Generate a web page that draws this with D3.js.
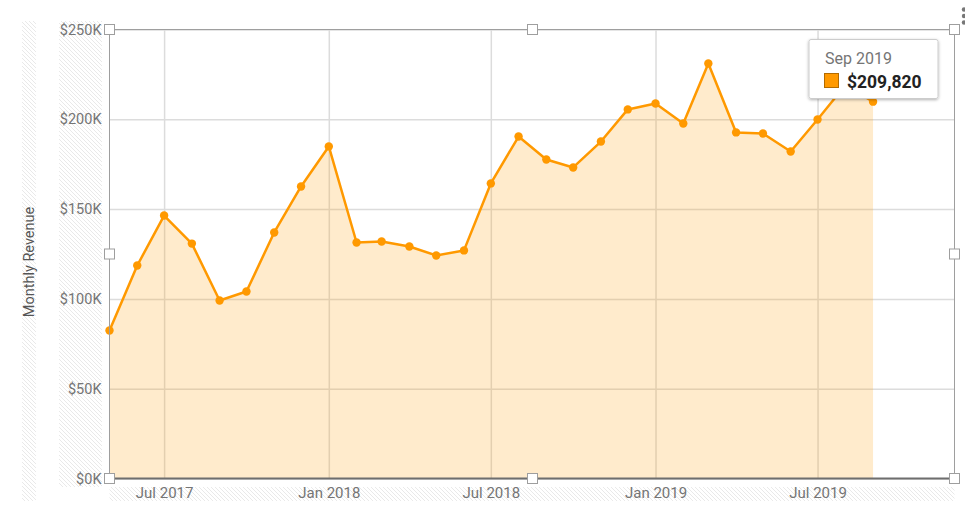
<!DOCTYPE html>
<html>
<head>
<meta charset="utf-8">
<script src="https://cdn.jsdelivr.net/npm/d3@7"></script>
<style>
  body { margin: 0; background: #fff; }
  svg { display: block; font-family: Roboto, Arial, sans-serif; }
</style>
</head>
<body>
<svg id="chart"></svg>
<script>
// ---- data ----
const months = [
  "2017-05", "2017-06", "2017-07", "2017-08", "2017-09", "2017-10", "2017-11", "2017-12",
  "2018-01", "2018-02", "2018-03", "2018-04", "2018-05", "2018-06", "2018-07", "2018-08",
  "2018-09", "2018-10", "2018-11", "2018-12", "2019-01", "2019-02", "2019-03", "2019-04",
  "2019-05", "2019-06", "2019-07", "2019-08", "2019-09"
];
const revenue = [
  82400, 118600, 146400, 130800, 99100, 104100, 137000, 162600,
  184900, 131400, 132000, 129200, 124200, 127000, 164300, 190400,
  177600, 173200, 187600, 205500, 208800, 197700, 231100, 192700,
  192100, 182100, 199900, 219000, 209820
];
const yTicks = [0, 50000, 100000, 150000, 200000, 250000];
const xTickLabels = ["Jul 2017", "Jan 2018", "Jul 2018", "Jan 2019", "Jul 2019"];
const yTitle = "Monthly Revenue";

const W = 965, H = 513;
const pL = 109.5, pT = 29.5, pR = 954.5, pB = 478.5;

const parse = d3.timeParse("%Y-%m");
const fmtTick = d3.timeFormat("%b %Y");
const data = months.map((m, i) => ({ date: parse(m), value: revenue[i] }));

const svg = d3.select("#chart").attr("width", W).attr("height", H);

const x = d3.scaleTime()
  .domain([parse("2017-05"), new Date(2019, 11, 1)])
  .range([pL, pR]);
const y = d3.scaleLinear().domain([0, 250000]).range([pB, pT]);

const xTicks = xTickLabels.map(s => d3.timeParse("%b %Y")(s));

/* hatch pattern for the label strips */
const defs = svg.append("defs");
const pat = defs.append("pattern")
  .attr("id", "hatch")
  .attr("patternUnits", "userSpaceOnUse")
  .attr("width", 4).attr("height", 4);
pat.append("path")
  .attr("d", "M-1,-1L5,5M-1,3L1,5M3,-1L5,1")
  .attr("stroke", "#e9e9e9").attr("stroke-width", 1);

const shadow = defs.append("filter").attr("id", "shadow")
  .attr("x", "-20%").attr("y", "-20%").attr("width", "140%").attr("height", "150%");
shadow.append("feDropShadow")
  .attr("dx", 0).attr("dy", 1).attr("stdDeviation", 1.5)
  .attr("flood-color", "#000").attr("flood-opacity", 0.3);

svg.append("rect").attr("x", 22).attr("y", 21).attr("width", 14).attr("height", 480).attr("fill", "url(#hatch)");
svg.append("rect").attr("x", 59).attr("y", 21).attr("width", 43).attr("height", 466).attr("fill", "url(#hatch)");
svg.append("rect").attr("x", pL).attr("y", 487).attr("width", pR - pL).attr("height", 14).attr("fill", "url(#hatch)");

/* gridlines */
svg.append("g")
  .attr("transform", `translate(0,${pB})`)
  .call(d3.axisBottom(x).tickValues(xTicks).tickSize(-(pB - pT)).tickFormat(""))
  .call(g => g.select(".domain").remove())
  .call(g => g.selectAll("line").attr("stroke", "#dcdcdc").attr("stroke-width", 1.5));

svg.append("g")
  .attr("transform", `translate(${pL},0)`)
  .call(d3.axisLeft(y).tickValues(yTicks).tickSize(-(pR - pL)).tickFormat(""))
  .call(g => g.select(".domain").remove())
  .call(g => g.selectAll("line").attr("stroke", "#dcdcdc").attr("stroke-width", 1.5));

/* area + line */
svg.append("path")
  .datum(data)
  .attr("fill", "#ff9900").attr("fill-opacity", 0.2)
  .attr("d", d3.area().x(d => x(d.date)).y0(y(0)).y1(d => y(d.value)));

svg.append("path")
  .datum(data)
  .attr("fill", "none").attr("stroke", "#ff9900").attr("stroke-width", 2.5)
  .attr("stroke-linejoin", "round")
  .attr("d", d3.line().x(d => x(d.date)).y(d => y(d.value)));

svg.append("g").selectAll("circle")
  .data(data)
  .enter().append("circle")
  .attr("cx", d => x(d.date)).attr("cy", d => y(d.value))
  .attr("r", 4.2).attr("fill", "#ff9900");

/* frame */
svg.append("rect")
  .attr("x", pL).attr("y", pT).attr("width", pR - pL).attr("height", pB - pT)
  .attr("fill", "none").attr("stroke", "#9e9e9e").attr("stroke-width", 1);
svg.append("line")
  .attr("x1", pL).attr("x2", pR).attr("y1", pB).attr("y2", pB)
  .attr("stroke", "#6e6e6e").attr("stroke-width", 2);

/* axis labels */
svg.append("g")
  .attr("transform", `translate(${pL},0)`)
  .call(d3.axisLeft(y).tickValues(yTicks).tickSize(0).tickPadding(8).tickFormat(d => "$" + d / 1000 + "K"))
  .call(g => g.select(".domain").remove())
  .call(g => g.selectAll("text").attr("fill", "#757575").style("font-size", "14.5px").style("font-family", "Roboto"));

svg.append("g")
  .attr("transform", `translate(0,${pB})`)
  .call(d3.axisBottom(x).tickValues(xTicks).tickSize(0).tickPadding(9).tickFormat(fmtTick))
  .call(g => g.select(".domain").remove())
  .call(g => g.selectAll("text").attr("fill", "#757575").style("font-size", "15px").style("font-family", "Roboto"));

svg.append("text")
  .attr("transform", `translate(34,${(pT + pB) / 2 + 8}) rotate(-90)`)
  .attr("text-anchor", "middle")
  .attr("fill", "#555").style("font-size", "14.5px")
  .text(yTitle);

/* selection handles */
const handles = [
  [pL, pT], [(pL + pR) / 2 + 0.5, pT], [pR, pT],
  [pL, (pT + pB) / 2], [pR, (pT + pB) / 2],
  [pL, pB], [(pL + pR) / 2 + 0.5, pB], [pR, pB]
];
svg.append("g").selectAll("rect")
  .data(handles)
  .enter().append("rect")
  .attr("x", d => d[0] - 5).attr("y", d => d[1] - 5)
  .attr("width", 10).attr("height", 10)
  .attr("fill", "#fff").attr("stroke", "#9e9e9e").attr("stroke-width", 1);

/* kebab menu dots */
svg.append("g").selectAll("circle")
  .data([9.5, 16, 22.5])
  .enter().append("circle")
  .attr("cx", 964).attr("cy", d => d).attr("r", 2.2).attr("fill", "#777");

/* tooltip for last point */
const last = data[data.length - 1];
const tip = svg.append("g").attr("transform", "translate(809,39.5)");
tip.append("rect")
  .attr("width", 129).attr("height", 59).attr("rx", 2)
  .attr("fill", "#fff").attr("stroke", "#ccc").attr("stroke-width", 1)
  .attr("filter", "url(#shadow)");
tip.append("text")
  .attr("x", 16).attr("y", 24)
  .attr("fill", "#757575").style("font-size", "16px")
  .text(d3.timeFormat("%b %Y")(last.date));
tip.append("rect")
  .attr("x", 15.5).attr("y", 34).attr("width", 14).attr("height", 14)
  .attr("fill", "#ff9900").attr("stroke", "#b36b00").attr("stroke-width", 1);
tip.append("text")
  .attr("x", 38).attr("y", 48)
  .attr("fill", "#222").style("font-size", "17.5px").style("font-weight", "bold")
  .text("$" + d3.format(",")(last.value));
</script>
</body>
</html>
